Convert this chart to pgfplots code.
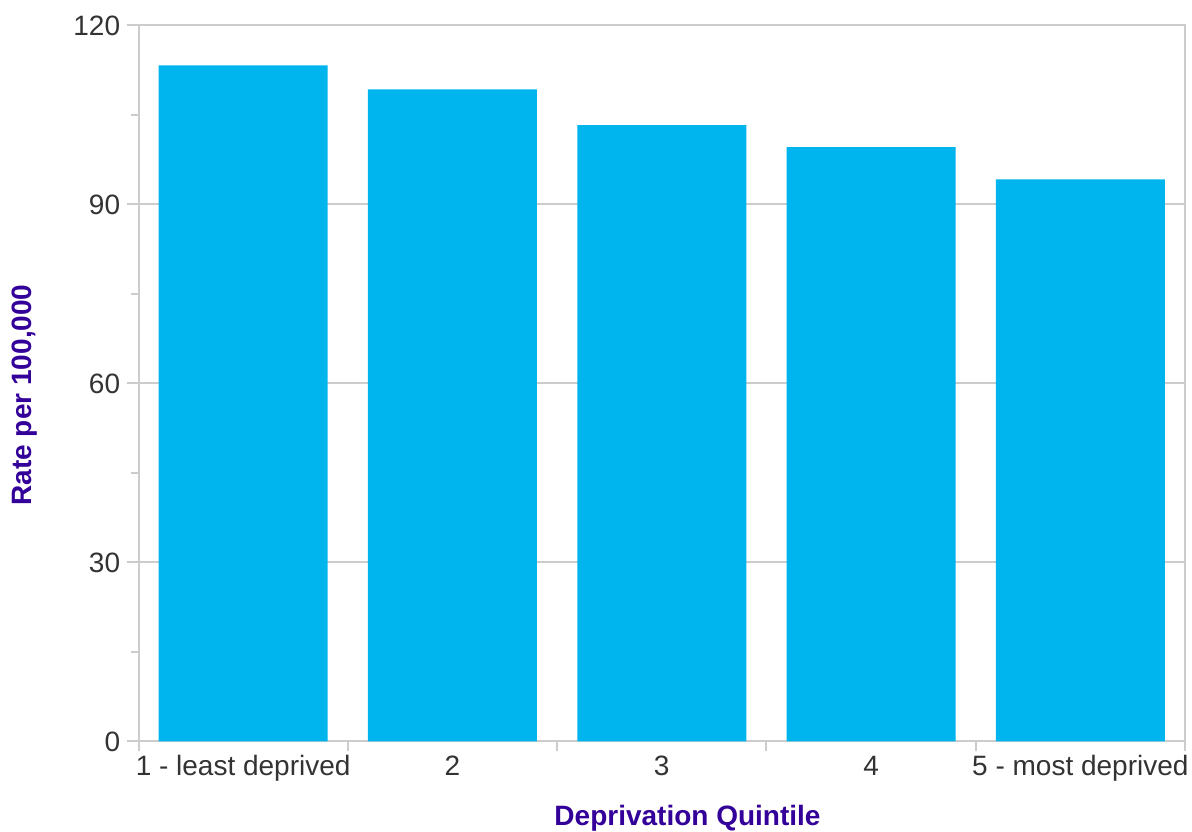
\documentclass[border=0pt]{standalone}
\usepackage{fontspec}
\setmainfont{Liberation Sans}
\usepackage{pgfplots}
\pgfplotsset{compat=1.18}

\definecolor{barblue}{HTML}{00B5EE}
\definecolor{labpurple}{HTML}{330099}
\definecolor{gridgray}{HTML}{CCCCCC}
\definecolor{ticktext}{HTML}{333333}

\begin{document}
\begin{tikzpicture}
\begin{axis}[
    scale only axis,
    width=523.25pt,
    height=358pt,
    xmin=0.5, xmax=5.5,
    ymin=0, ymax=120,
    ytick={0,30,60,90,120},
    minor ytick={15,45,75,105},
    xtick={1,2,3,4,5},
    xticklabels={1 - least deprived,2,3,4,5 - most deprived},
    extra x ticks={0.5,1.5,2.5,3.5,4.5,5.5},
    extra x tick labels={},
    extra x tick style={major tick length=5pt, major x tick style={draw=gridgray, line width=1pt}},
    tick pos=left,
    tick align=outside,
    major tick length=5.5pt,
    minor tick length=3.5pt,
    major x tick style={draw=none},
    ytick style={draw=gridgray, line width=1pt},
    ymajorgrids,
    major grid style={draw=gridgray, line width=1pt},
    axis line style={draw=gridgray, line width=1pt},
    tick label style={font=\fontsize{14}{16}\selectfont, text=ticktext},
    /pgf/number format/assume math mode=true,
    yticklabel style={anchor=east, inner sep=0pt, xshift=-3.5pt},
    xticklabel style={anchor=base, inner sep=0pt, yshift=-11.3pt},
    xlabel={Deprivation Quintile},
    ylabel={Rate per 100,000},
    label style={font=\bfseries\fontsize{14}{16}\selectfont, text=labpurple},
    xlabel style={at={(axis description cs:0.5246,0)}, anchor=base, yshift=-42.25pt, inner sep=0pt},
    ylabel style={at={(axis description cs:-0.1085,0.484)}, anchor=center, inner sep=0pt},
    bar width=84.5pt,
]
\addplot[ybar, fill=barblue, draw=none] coordinates {
    (1, 113.3) (2, 109.3) (3, 103.3) (4, 99.6) (5, 94.2)
};
\end{axis}
\pgfresetboundingbox
\path[use as bounding box] ([xshift=-69.25pt,yshift=-45.25pt]current axis.south west) rectangle ([xshift=3.5pt,yshift=12.75pt]current axis.north east);
\end{tikzpicture}
\end{document}
